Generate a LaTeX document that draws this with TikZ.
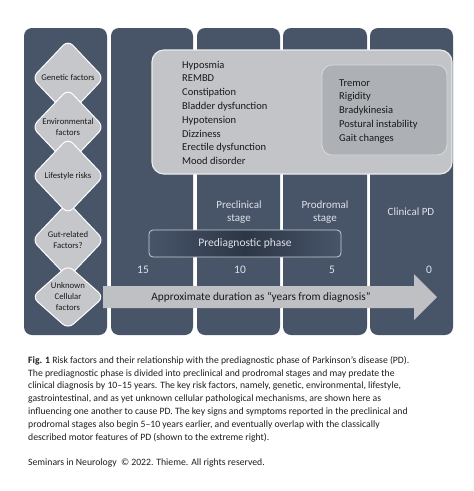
\documentclass[tikz,border=0pt]{standalone}
\usepackage{fontspec}
\setmainfont{Carlito}
\usetikzlibrary{shapes,shapes.geometric,positioning}
\definecolor{slate}{RGB}{72,85,105}
\definecolor{slatedark}{RGB}{44,54,70}
\definecolor{panelgrey}{RGB}{194,196,200}
\definecolor{motorgrey}{RGB}{173,176,181}
\definecolor{arrowgrey}{RGB}{190,192,195}
\definecolor{labelgrey}{RGB}{222,226,233}
\definecolor{captiongrey}{RGB}{30,30,30}
\tikzset{
  column/.style={fill=slate,rounded corners=8pt},
  riskbox/.style={diamond,draw=white,line width=1pt,fill=panelgrey!95!white,
    rounded corners=7pt,inner sep=0pt,minimum width=72pt,minimum height=76pt,
    align=center,font=\fontsize{8.7}{11}\selectfont,text=black!90},
  listtext/.style={anchor=base west,inner sep=0pt,font=\fontsize{10.5}{13}\selectfont,text=black!90},
  stagelabel/.style={align=center,font=\fontsize{11}{13.5}\selectfont,text=labelgrey},
  yearlabel/.style={font=\fontsize{11.5}{13}\selectfont,text=labelgrey}
}

\begin{document}
\begin{tikzpicture}[x=1pt,y=-1pt]
\useasboundingbox[fill=white] (0,0) rectangle (474,491);
% the five time columns
\foreach \a/\b in {24/107,111/193,197/280,283/367,370/453}
  \fill[column] (\a,28) rectangle (\b,335);
% symptom panels
\draw[fill=panelgrey,draw=white!92!black,line width=1.2pt,rounded corners=12pt] (152,50) rectangle (452,174);
\draw[fill=motorgrey,draw=white!85!black,line width=0.8pt,rounded corners=10pt] (322,65) rectangle (447,155);
\foreach \t [count=\i from 0] in {Hyposmia,REMBD,Constipation,Bladder dysfunction,Hypotension,Dizziness,Erectile dysfunction,Mood disorder}
  \node[listtext] (nonmotor\i) at (182,68+13.8*\i) {\t};
\foreach \t [count=\i from 0] in {Tremor,Rigidity,Bradykinesia,Postural instability,Gait changes}
  \node[listtext] (motor\i) at (339,86+13.8*\i) {\t};
% stage labels
\node[stagelabel] (preclin) at (239,212) {Preclinical\\stage};
\node[stagelabel] (prodrom) at (325,212) {Prodromal\\stage};
\node[stagelabel] (clinpd) at (411,212) {Clinical PD};
\node[draw=white!70!slate,line width=0.8pt,rounded corners=4pt,
  left color=slate,right color=slate,middle color=slatedark,
  minimum width=192pt,minimum height=27pt,inner sep=0pt,
  font=\fontsize{11.5}{13}\selectfont,text=labelgrey] (prediag) at (245,243.5) {Prediagnostic phase};
% years
\node[yearlabel] (y15) at (143,270) {15};
\node[yearlabel] (y10) at (240,270) {10};
\node[yearlabel] (y5) at (332,270) {5};
\node[yearlabel] (y0) at (429,270) {0};
% time arrow
\fill[arrowgrey] (103,286) -- (414,286) -- (414,274) -- (437,297) -- (414,320) -- (414,308) -- (103,308) -- cycle;
\node[font=\fontsize{11.3}{13}\selectfont,text=black!90] (duration) at (261,297) {Approximate duration as “years from diagnosis”};
% risk factors
\node[riskbox] (genetic) at (68,78) {Genetic factors};
\node[riskbox] (environ) at (68,127) {Environmental\\factors};
\node[riskbox] (gut) at (68,240) {Gut-related\\Factors?};
\node[riskbox] (lifestyle) at (68,176) {Lifestyle risks};
\node[riskbox,minimum height=64pt] (cellular) at (68,297) {Unknown\\Cellular\\factors};
% caption
\node[anchor=north west,inner sep=0pt,align=left,text=captiongrey,
  font=\fontsize{9.7}{12.8}\selectfont] (caption) at (28,356)
  {\textbf{Fig. 1} Risk factors and their relationship with the prediagnostic phase of Parkinson’s disease (PD).\\
  The prediagnostic phase is divided into preclinical and prodromal stages and may predate the\\
  clinical diagnosis by 10–15 years. The key risk factors, namely, genetic, environmental, lifestyle,\\
  gastrointestinal, and as yet unknown cellular pathological mechanisms, are shown here as\\
  influencing one another to cause PD. The key signs and symptoms reported in the preclinical and\\
  prodromal stages also begin 5–10 years earlier, and eventually overlap with the classically\\
  described motor features of PD (shown to the extreme right).};
\node[anchor=base west,inner sep=0pt,text=captiongrey,font=\fontsize{9.7}{12.8}\selectfont] (source) at (28,465)
  {Seminars in Neurology\ \ © 2022. Thieme. All rights reserved.};
\end{tikzpicture}
\end{document}
